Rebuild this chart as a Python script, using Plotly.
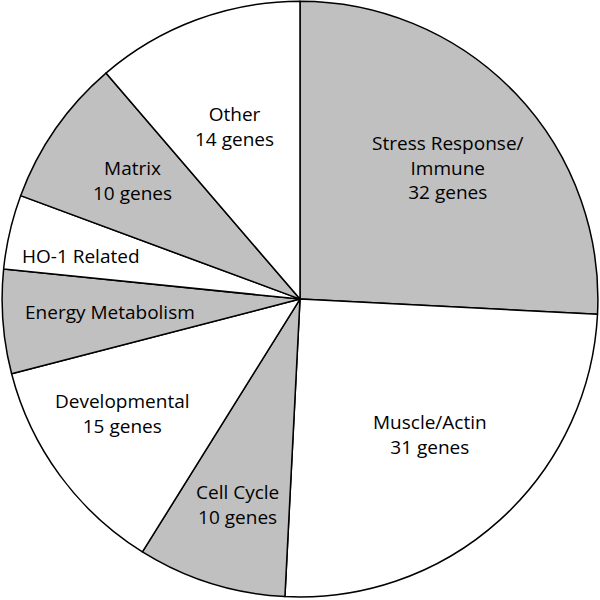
import math
import plotly.graph_objects as go

# Gene categories, clockwise from 12 o'clock
categories = ["Stress Response/Immune", "Muscle/Actin", "Cell Cycle", "Developmental",
              "Energy Metabolism", "HO-1 Related", "Matrix", "Other"]
gene_counts = [32, 31, 10, 15, 7, 5, 10, 14]
label_text = ["Stress Response/<br>Immune<br>32 genes", "Muscle/Actin<br>31 genes",
              "Cell Cycle<br>10 genes", "Developmental<br>15 genes",
              "Energy Metabolism", "HO-1 Related", "Matrix<br>10 genes", "Other<br>14 genes"]

GRAY = "#c0c0c0"
colors = [GRAY, "white", GRAY, "white", GRAY, "white", GRAY, "white"]

# label placement: (fraction of radius, angle nudge in degrees)
placement = [(0.665, 2), (0.63, -1.6), (0.72, -0.6), (0.71, 3.4),
             (0.64, 0.5), (0.75, -2), (0.69, 0.5), (0.62, -0.4)]

dom_x = [0.002, 0.998]
dom_y = [0.005, 0.998]

fig = go.Figure(go.Pie(
    labels=categories,
    values=gene_counts,
    sort=False,
    direction="clockwise",
    rotation=0,
    marker=dict(colors=colors, line=dict(color="black", width=1.5)),
    textinfo="none",
    hoverinfo="label+value",
    showlegend=False,
    domain=dict(x=dom_x, y=dom_y),
))

# place the labels along each slice's bisector
total = sum(gene_counts)
cx = (dom_x[0] + dom_x[1]) / 2
cy = (dom_y[0] + dom_y[1]) / 2
R = (dom_y[1] - dom_y[0]) * 600 / 2
start = 0.0
for cnt, txt, (frac, nudge) in zip(gene_counts, label_text, placement):
    span = cnt / total * 360
    mid = math.radians(start + span / 2 + nudge)
    start += span
    fig.add_annotation(
        x=cx + frac * R * math.sin(mid) / 600,
        y=cy + frac * R * math.cos(mid) / 600,
        xref="paper", yref="paper",
        xanchor="center", yanchor="middle",
        text=txt, showarrow=False,
        font=dict(family="Open Sans", size=19, color="black"),
        align="center",
    )

fig.update_layout(
    width=600, height=600,
    margin=dict(l=0, r=0, t=0, b=0),
    paper_bgcolor="white",
    plot_bgcolor="white",
)

fig.write_html("out.html", config={"displayModeBar": False},
               post_script="document.body.style.margin='0';")
